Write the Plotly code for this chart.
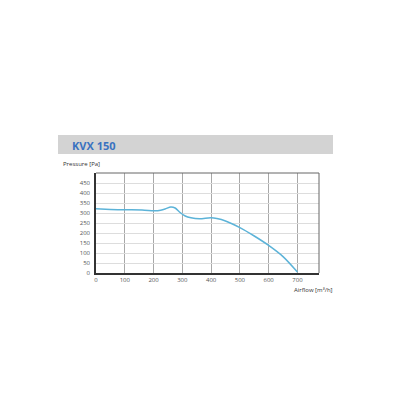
import plotly.graph_objects as go

# fan curve
airflow = [0, 50, 100, 160, 200, 215, 240, 260, 275, 290, 310, 330, 360, 400, 420, 450, 500, 550, 600, 650, 700]
pressure = [321, 318, 316, 315, 311, 311, 320, 330, 325, 305, 285, 276, 271, 276, 272, 260, 227, 185, 138, 82, 5]

x_ticks = [0, 100, 200, 300, 400, 500, 600, 700]
y_ticks = [0, 50, 100, 150, 200, 250, 300, 350, 400, 450]

LINE = "#5cb3d8"
TICK = "#555555"

# page body has an 8px margin, so plot box sits at screen x 96-319, y 173-273
L, R, T, B = 88, 89, 165, 135
PW = 400 - L - R
PH = 400 - T - B


def px_x(sx):
    return (sx - 8 - L) / PW


def px_y(sy):
    return (400 - B - (sy - 8)) / PH


fig = go.Figure()
fig.add_trace(
    go.Scatter(
        x=airflow,
        y=pressure,
        mode="lines",
        line={"color": LINE, "width": 1.5, "shape": "spline", "smoothing": 0.8},
        hoverinfo="skip",
    )
)

fig.update_layout(
    width=400,
    height=400,
    margin={"l": L, "r": R, "t": T, "b": B},
    paper_bgcolor="white",
    plot_bgcolor="white",
    showlegend=False,
    font={"family": "Open Sans", "size": 6, "color": TICK},
    xaxis={
        "range": [0, 775],
        "tickvals": x_ticks,
        "ticks": "",
        "showgrid": True,
        "gridcolor": "#a8a8a8",
        "gridwidth": 1,
        "zeroline": False,
        "showline": True,
        "linecolor": "#333333",
        "linewidth": 1.5,
        "tickfont": {"size": 6, "color": TICK},
        "fixedrange": True,
    },
    yaxis={
        "range": [0, 500],
        "tickvals": y_ticks,
        "ticks": "",
        "showgrid": True,
        "gridcolor": "#dddddd",
        "gridwidth": 1,
        "zeroline": False,
        "showline": True,
        "linecolor": "#333333",
        "linewidth": 1.5,
        "tickfont": {"size": 6, "color": TICK},
        "ticklabelstandoff": 3,
        "fixedrange": True,
    },
    shapes=[
        # gray title banner
        {
            "type": "rect", "xref": "paper", "yref": "paper",
            "x0": px_x(58), "x1": px_x(333), "y0": px_y(154), "y1": px_y(135),
            "fillcolor": "#d3d3d3", "line": {"width": 0}, "layer": "below",
        },
        # top and right frame
        {
            "type": "line", "xref": "paper", "yref": "paper",
            "x0": 0, "x1": 1, "y0": 1, "y1": 1, "line": {"color": "#666666", "width": 1},
        },
        {
            "type": "line", "xref": "paper", "yref": "paper",
            "x0": 1, "x1": 1, "y0": 0, "y1": 1, "line": {"color": "#666666", "width": 1},
        },
    ],
    annotations=[
        {
            "text": "<b>KVX 150</b>", "xref": "paper", "yref": "paper",
            "x": px_x(70), "y": px_y(145), "xanchor": "left", "yanchor": "middle",
            "showarrow": False, "font": {"family": "Open Sans", "size": 11, "color": "#3a72c0"},
        },
        {
            "text": "Pressure [Pa]", "xref": "paper", "yref": "paper",
            "x": px_x(61), "y": px_y(164), "xanchor": "left", "yanchor": "middle",
            "showarrow": False, "font": {"family": "Open Sans", "size": 6, "color": "#333333"},
        },
        {
            "text": "Airflow [m³/h]", "xref": "paper", "yref": "paper",
            "x": px_x(292), "y": px_y(290), "xanchor": "left", "yanchor": "middle",
            "showarrow": False, "font": {"family": "Open Sans", "size": 6, "color": "#333333"},
        },
    ],
)

fig.write_html("out.html")
